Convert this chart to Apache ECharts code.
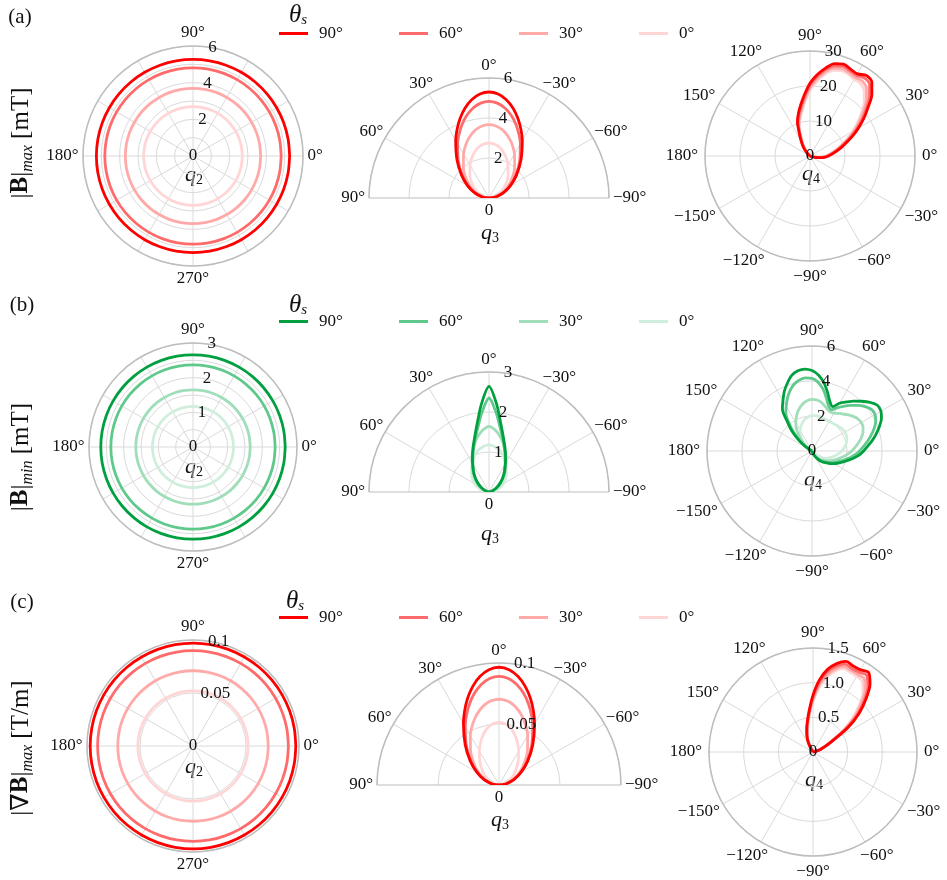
<!DOCTYPE html>
<html>
<head>
<meta charset="utf-8">
<script src="https://cdn.jsdelivr.net/npm/echarts@6/dist/echarts.min.js"></script>
<style>
  html, body { margin: 0; padding: 0; background: #fff; }
  #chart { width: 947px; height: 880px; }
</style>
</head>
<body>
<div id="chart"></div>
<script>
// Source polar angle θs of each curve (legend order, darkest first)
const thetaS = ['90°', '60°', '30°', '0°'];

// ---- q2 sweep: field magnitude does not depend on q2 (constant rings) ----
const q2Sweep = [0, 10, 20, 30, 40, 50, 60, 70, 80, 90, 100, 110, 120, 130, 140, 150, 160, 170, 180,
  190, 200, 210, 220, 230, 240, 250, 260, 270, 280, 290, 300, 310, 320, 330, 340, 350, 360];
const bmaxQ2 = [5.27, 4.81, 3.69, 2.69];     // |B|max [mT] for θs = 90, 60, 30, 0
const bminQ2 = [2.66, 2.37, 1.65, 1.17];     // |B|min [mT]
const gradQ2 = [0.097, 0.090, 0.071, 0.052]; // |∇B|max [T/m]

// ---- q3 sweep (half plane, -90° .. 90°) ----
const q3Sweep = [-90, -85, -80, -70, -60, -50, -40, -30, -25, -20, -15, -10, -5, 0, 5, 10, 15, 20, 25, 30, 40, 50, 60, 70, 80, 85, 90];
const bmaxQ3_90 = [0, 0.185, 0.372, 0.774, 1.24, 1.80, 2.49, 3.33, 3.78, 4.23, 4.65, 4.99, 5.22, 5.30, 5.22, 4.99, 4.65, 4.23, 3.78, 3.33, 2.49, 1.80, 1.24, 0.774, 0.372, 0.185, 0];
const bmaxQ3_60 = [0, 0.18, 0.365, 0.758, 1.206, 1.74, 2.384, 3.135, 3.534, 3.925, 4.282, 4.572, 4.763, 4.83, 4.763, 4.572, 4.282, 3.925, 3.534, 3.135, 2.384, 1.74, 1.206, 0.758, 0.365, 0.18, 0];
const bmaxQ3_30 = [0, 0.163, 0.325, 0.669, 1.052, 1.491, 1.994, 2.546, 2.825, 3.09, 3.324, 3.509, 3.628, 3.67, 3.628, 3.509, 3.324, 3.09, 2.825, 2.546, 1.994, 1.491, 1.052, 0.669, 0.325, 0.163, 0];
const bmaxQ3_0  = [0, 0.12, 0.241, 0.497, 0.783, 1.11, 1.487, 1.902, 2.112, 2.311, 2.488, 2.628, 2.719, 2.75, 2.719, 2.628, 2.488, 2.311, 2.112, 1.902, 1.487, 1.11, 0.783, 0.497, 0.241, 0.12, 0];

const bminQ3_90 = [0, 0.015, 0.03, 0.10, 0.22, 0.38, 0.58, 0.82, 0.98, 1.17, 1.40, 1.72, 2.20, 2.64, 2.20, 1.72, 1.40, 1.17, 0.98, 0.82, 0.58, 0.38, 0.22, 0.10, 0.03, 0.015, 0];
const bminQ3_60 = [0, 0.015, 0.03, 0.11, 0.23, 0.39, 0.58, 0.81, 0.96, 1.13, 1.35, 1.62, 2.00, 2.35, 2.00, 1.62, 1.35, 1.13, 0.96, 0.81, 0.58, 0.39, 0.23, 0.11, 0.03, 0.015, 0];
const bminQ3_30 = [0, 0.025, 0.05, 0.14, 0.27, 0.42, 0.62, 0.85, 1.00, 1.15, 1.31, 1.45, 1.57, 1.64, 1.57, 1.45, 1.31, 1.15, 1.00, 0.85, 0.62, 0.42, 0.27, 0.14, 0.05, 0.025, 0];
const bminQ3_0  = [0, 0.05, 0.12, 0.26, 0.42, 0.55, 0.68, 0.82, 0.91, 1.00, 1.07, 1.12, 1.16, 1.18, 1.16, 1.12, 1.07, 1.00, 0.91, 0.82, 0.68, 0.55, 0.42, 0.26, 0.12, 0.05, 0];

const gradQ3_90 = [0, 0.0031, 0.0063, 0.0130, 0.0210, 0.0308, 0.0431, 0.0583, 0.0668, 0.0754, 0.0835, 0.0903, 0.0949, 0.0965, 0.0949, 0.0903, 0.0835, 0.0754, 0.0668, 0.0583, 0.0431, 0.0308, 0.0210, 0.0130, 0.0063, 0.0031, 0];
const gradQ3_60 = [0, 0.0031, 0.0062, 0.0128, 0.0205, 0.0299, 0.0415, 0.0554, 0.0631, 0.0707, 0.0778, 0.0837, 0.0876, 0.0890, 0.0876, 0.0837, 0.0778, 0.0707, 0.0631, 0.0554, 0.0415, 0.0299, 0.0205, 0.0128, 0.0062, 0.0031, 0];
const gradQ3_30 = [0, 0.0029, 0.0057, 0.0118, 0.0186, 0.0267, 0.0362, 0.0470, 0.0526, 0.0580, 0.0629, 0.0669, 0.0694, 0.0703, 0.0694, 0.0669, 0.0629, 0.0580, 0.0526, 0.0470, 0.0362, 0.0267, 0.0186, 0.0118, 0.0057, 0.0029, 0];
const gradQ3_0  = [0, 0.0018, 0.0036, 0.0075, 0.0120, 0.0175, 0.0242, 0.0323, 0.0366, 0.0410, 0.0451, 0.0484, 0.0506, 0.0514, 0.0506, 0.0484, 0.0451, 0.0410, 0.0366, 0.0323, 0.0242, 0.0175, 0.0120, 0.0075, 0.0036, 0.0018, 0];

// ---- q4 sweeps (full plane, lobes only where the field is non-zero) ----
const bmaxQ4Sweep = [-25, -20, -15, -10, -5, 0, 5, 10, 15, 20, 25, 30, 35, 40, 45, 50, 55, 60, 65, 70,
  75, 80, 85, 90, 95, 100, 105, 110, 115, 120, 125, 130, 135, 140];
const bmaxQ4_90 = [0, 0.3, 1.4, 2.8, 4.2, 5.3, 6.3, 7.6, 9.2, 11.0, 13.4, 16.0, 18.8, 21.7, 25.0, 27.5, 28.1, 27.1, 27.4, 27.9, 27.3, 25.5, 23.3, 20.8, 17.7, 15.0, 12.7, 10.5, 7.3, 5.2, 3.6, 2.2, 1.0, 0];
const bmaxQ4_60 = [0, 0.3, 1.3, 2.6, 3.9, 5.0, 6.0, 7.3, 8.8, 10.6, 12.9, 15.4, 18.2, 21.0, 24.0, 26.5, 27.2, 26.6, 26.9, 27.3, 26.7, 25.0, 22.8, 20.2, 17.1, 14.4, 12.2, 10.0, 6.9, 4.8, 3.3, 2.0, 0.9, 0];
const bmaxQ4_30 = [0, 0.3, 1.2, 2.4, 3.7, 4.8, 5.8, 7.0, 8.4, 10.1, 12.3, 14.7, 17.3, 20.0, 22.8, 25.1, 26.1, 25.9, 26.3, 26.6, 26.0, 24.3, 22.0, 19.5, 16.4, 13.7, 11.5, 9.4, 6.5, 4.5, 3.0, 1.8, 0.8, 0];
const bmaxQ4_0  = [0, 0.3, 1.2, 2.3, 3.5, 4.6, 5.6, 6.7, 8.1, 9.7, 11.8, 14.1, 16.6, 19.2, 21.9, 24.1, 25.2, 25.3, 25.8, 26.0, 25.3, 23.6, 21.3, 18.8, 15.8, 13.1, 11.0, 8.9, 6.1, 4.2, 2.9, 1.7, 0.8, 0];

const bminQ4Sweep = [-75, -70, -65, -60, -55, -50, -45, -40, -35, -30, -25, -20, -15, -10, -5,
  0, 5, 10, 15, 20, 25, 30, 35, 40, 45, 50, 55, 60, 65, 70, 75, 80, 85, 90, 95, 100,
  105, 110, 115, 120, 125, 130, 135, 140, 145, 150, 155];
const bminQ4_90 = [0, 0.05, 0.2, 0.35, 0.55, 0.75, 0.9, 1.05, 1.25, 1.45, 1.65, 1.85, 2.1, 2.4, 2.7,
  2.95, 3.2, 3.5, 3.8, 4.1, 4.38, 4.55, 4.56, 4.33, 4.02, 3.72, 3.42, 3.15, 2.8, 3.0, 3.45, 3.95, 4.35, 4.6, 4.7, 4.65,
  4.47, 4.12, 3.75, 3.32, 2.95, 2.2, 1.65, 1.05, 0.55, 0.15, 0];
const bminQ4_60 = [0, 0.05, 0.18, 0.32, 0.5, 0.68, 0.83, 0.97, 1.15, 1.33, 1.52, 1.7, 1.93, 2.2, 2.47,
  2.72, 2.95, 3.22, 3.5, 3.78, 4.02, 4.16, 4.15, 3.95, 3.68, 3.4, 3.12, 2.85, 2.6, 2.75, 3.15, 3.6, 3.95, 4.15, 4.2, 4.12,
  3.95, 3.67, 3.32, 2.95, 2.6, 2.0, 1.45, 0.92, 0.45, 0.1, 0];
const bminQ4_30 = [0, 0.05, 0.15, 0.27, 0.42, 0.57, 0.7, 0.82, 0.97, 1.12, 1.28, 1.44, 1.62, 1.83, 2.05,
  2.27, 2.48, 2.7, 2.92, 3.1, 3.22, 3.25, 3.2, 3.08, 2.92, 2.76, 2.62, 2.5, 2.45, 2.55, 2.7, 2.85, 2.93, 2.95, 2.9, 2.78,
  2.6, 2.38, 2.12, 1.85, 1.55, 1.2, 0.85, 0.52, 0.25, 0.05, 0];
const bminQ4_0  = [0, 0.05, 0.12, 0.2, 0.3, 0.4, 0.5, 0.6, 0.72, 0.84, 0.97, 1.1, 1.25, 1.4, 1.55,
  1.7, 1.83, 1.95, 2.05, 2.12, 2.16, 2.17, 2.15, 2.1, 2.05, 2.0, 1.97, 1.95, 1.95, 1.97, 2.0, 2.02, 2.03, 2.02, 1.98, 1.9,
  1.8, 1.67, 1.52, 1.35, 1.15, 0.93, 0.7, 0.45, 0.22, 0.05, 0];

const gradQ4Sweep = [10, 15, 20, 25, 30, 35, 40, 45, 50, 55, 60, 65, 70, 75, 80, 85, 90, 95, 100, 105, 110, 115, 120, 125];
const gradQ4_90 = [0, 0.06, 0.12, 0.2, 0.33, 0.62, 0.87, 1.08, 1.28, 1.40, 1.37, 1.37, 1.39, 1.32, 1.21, 1.04, 0.82, 0.61, 0.46, 0.35, 0.26, 0.18, 0.08, 0];
const gradQ4_60 = [0, 0.05, 0.12, 0.2, 0.32, 0.58, 0.83, 1.04, 1.23, 1.35, 1.33, 1.33, 1.35, 1.28, 1.17, 1.0, 0.79, 0.59, 0.45, 0.34, 0.25, 0.17, 0.07, 0];
const gradQ4_30 = [0, 0.05, 0.11, 0.19, 0.3, 0.54, 0.78, 0.98, 1.17, 1.29, 1.29, 1.30, 1.31, 1.24, 1.12, 0.96, 0.76, 0.57, 0.43, 0.32, 0.24, 0.16, 0.07, 0];
const gradQ4_0  = [0, 0.05, 0.11, 0.18, 0.29, 0.5, 0.73, 0.93, 1.12, 1.24, 1.26, 1.27, 1.28, 1.2, 1.08, 0.92, 0.73, 0.55, 0.41, 0.31, 0.23, 0.15, 0.06, 0];

// ---- styling ----
const FONT = '"Liberation Serif", "DejaVu Serif", serif';
const INK = '#111111';
const GRID = '#dadada';
const SPINE = '#bdbdbd';
const REDS = ['#ff0000', '#ff6b6b', '#ffa9a9', '#ffd5d5'];
const GREENS = ['#00a040', '#5fc98c', '#a0ddb9', '#cfeedc'];
const LABEL_PUSH = 22;   // extra outward room that the per-label padding redistributes
const LABEL_H = 17;

const option = {
  animation: false,
  backgroundColor: '#ffffff',
  polar: [], angleAxis: [], radiusAxis: [], series: [], legend: [], graphic: []
};

function textWidth(s) {
  let w = 0;
  for (const ch of s) w += ch === '.' ? 4.3 : ch === '°' ? 6.8 : ch === '\u2212' ? 9.6 : 8.6;
  return w;
}
function signedDeg(v) {
  return (v < 0 ? '\u2212' : '') + Math.abs(v) + '°';
}
const valKey = v => 'v' + (v < 0 ? 'm' + (-v) : v);

// Angle-axis variants for the three sweep types; `screen` gives the on-screen direction of a value
const ANGLE = {
  q2: { min: 0, max: 360, startAngle: 0, screen: v => v, fmt: v => (v % 90 === 0 ? (v % 360) + '°' : '') },
  q3: { min: -90, max: 90, startAngle: 0, endAngle: 180, screen: v => v + 90, fmt: signedDeg },
  q4: { min: -180, max: 180, startAngle: 180, screen: v => v, fmt: v => (Math.abs(v) === 180 ? '180°' : signedDeg(v)) }
};

// The axis anchors each angle label by its nearest edge; padding moves every label so that its
// centre sits at rim + margin + half its own extent along the label direction.
function angleLabelRich(a, r, m0) {
  const d = LABEL_PUSH, h = LABEL_H, k = (r + m0) / r;
  const rich = {};
  for (let v = a.min; v <= a.max; v += 30) {
    const t = a.fmt(v);
    if (!t) continue;
    const th = a.screen(v) * Math.PI / 180;
    const ux = Math.cos(th), uy = -Math.sin(th);
    const w = textWidth(t);
    let pl = 0, pr = 0, pt = 0, pb = 0;
    if (Math.abs(ux) * k < 0.3) {
      const s = (d + w / 2) * ux;
      if (s > 0) pl = 2 * s; else pr = -2 * s;
    } else if (ux > 0) pl = d * ux - w / 2 * (1 - ux);
    else pr = -d * ux - w / 2 * (1 + ux);
    if (Math.abs(uy) * k < 0.3) {
      const s = (d + h / 2) * uy;
      if (s > 0) pt = 2 * s; else pb = -2 * s;
    } else if (uy > 0) pt = d * uy - h / 2 * (1 - uy);
    else pb = -d * uy - h / 2 * (1 + uy);
    rich[valKey(v)] = { padding: [Math.max(0, pt), Math.max(0, pr), Math.max(0, pb), Math.max(0, pl)] };
  }
  return rich;
}

function addPanel(p) {
  const base = option.polar.length;
  option.polar.push({ center: [p.cx, p.cy], radius: p.r });
  option.polar.push({ center: [p.cx, p.cy], radius: p.r });
  const a = ANGLE[p.kind];
  const m0 = p.margin - LABEL_PUSH;
  const spokes = p.kind === 'q3' ? [SPINE, GRID, GRID, GRID, GRID, GRID, SPINE] : GRID;
  const angleAxis = {
    polarIndex: base, type: 'value', min: a.min, max: a.max, interval: 30,
    startAngle: a.startAngle, clockwise: false,
    axisLine: { show: true, lineStyle: { color: SPINE, width: 1.5 } },
    axisTick: { show: false },
    splitLine: { show: true, lineStyle: { color: spokes, width: 1 } },
    axisLabel: {
      show: true, margin: m0,
      color: INK, fontFamily: FONT, fontSize: 17, rich: angleLabelRich(a, p.r, m0),
      formatter: v => { const t = a.fmt(v); return t ? '{' + valKey(v) + '|' + t + '}' : ''; }
    }
  };
  if (a.endAngle !== undefined) angleAxis.endAngle = a.endAngle;
  option.angleAxis.push(angleAxis);
  // second, invisible angle axis that sets the direction along which radial tick labels sit
  option.angleAxis.push({ polarIndex: base + 1, type: 'value', min: 0, max: 360, startAngle: p.labelAngle, clockwise: false, show: false });

  option.radiusAxis.push({
    polarIndex: base, type: 'value', min: 0, max: p.max, interval: p.ring,
    axisLine: { show: false }, axisTick: { show: false }, axisLabel: { show: false },
    splitLine: { show: true, lineStyle: { color: GRID, width: 1 } }
  });

  const fmt = p.tickFmt || (v => String(v));
  const rich = { zb: { padding: [26, 0, 0, 0] } };
  for (let k = 1; k * p.tick <= p.max + 1e-9; k++) {
    const t = fmt(+(k * p.tick).toFixed(6));
    rich['k' + t.replace('.', 'd')] = { padding: [0, 0, 0, textWidth(t)] };
  }
  option.radiusAxis.push({
    polarIndex: base + 1, type: 'value', min: 0, max: p.max, interval: p.tick, z: 6,
    axisLine: { show: false }, axisTick: { show: false }, splitLine: { show: false },
    axisLabel: {
      show: true, margin: 0, align: 'center', verticalAlign: 'middle',
      color: INK, fontFamily: FONT, fontSize: 17, rich,
      formatter: v => {
        if (v === 0) return p.zeroBelow ? '{zb|0}' : '0';
        const t = fmt(v);
        return '{k' + t.replace('.', 'd') + '|' + t + '}';
      }
    }
  });

  // draw the palest curve first so the θs = 90° curve ends up on top
  for (let i = p.curves.length - 1; i >= 0; i--) {
    const c = p.curves[i];
    option.series.push({
      type: 'line', coordinateSystem: 'polar', polarIndex: base,
      name: p.row + thetaS[i],
      data: p.sweep.map((ang, j) => [c[j], ang]),
      symbol: 'none', showSymbol: false, smooth: 0.3, z: 3,
      lineStyle: { color: p.colors[i], width: 2.8 },
      itemStyle: { color: p.colors[i] }
    });
  }

  // sweep-variable label under each panel
  option.graphic.push({
    type: 'text', x: p.cx + 1, y: p.cy + p.qDy,
    style: {
      text: '{q|q}{s|' + p.q + '}', align: 'center', verticalAlign: 'middle',
      rich: {
        q: { fontFamily: FONT, fontStyle: 'italic', fontSize: 22, lineHeight: 24, fill: INK },
        s: { fontFamily: FONT, fontSize: 14, lineHeight: 14, verticalAlign: 'bottom', fill: INK }
      }
    }
  });
}

const ringCurves = vals => vals.map(v => q2Sweep.map(() => v));

// ---------- row (a): |B|max ----------
addPanel({ row: 'a', kind: 'q2', cx: 193, cy: 156, r: 110, max: 6, ring: 1, tick: 2, margin: 4.5, labelAngle: 82,
  sweep: q2Sweep, curves: ringCurves(bmaxQ2), colors: REDS, q: 2, qDy: 19 });
addPanel({ row: 'a', kind: 'q3', cx: 489, cy: 198, r: 120, max: 6, ring: 2, tick: 2, margin: 4, labelAngle: 83, zeroBelow: true,
  sweep: q3Sweep, curves: [bmaxQ3_90, bmaxQ3_60, bmaxQ3_30, bmaxQ3_0], colors: REDS, q: 3, qDy: 35 });
addPanel({ row: 'a', kind: 'q4', cx: 810, cy: 156, r: 105, max: 30, ring: 10, tick: 10, margin: 7, labelAngle: 82,
  sweep: bmaxQ4Sweep, curves: [bmaxQ4_90, bmaxQ4_60, bmaxQ4_30, bmaxQ4_0], colors: REDS, q: 4, qDy: 18 });

// ---------- row (b): |B|min ----------
addPanel({ row: 'b', kind: 'q2', cx: 193, cy: 447, r: 104, max: 3, ring: 0.5, tick: 1, margin: 4.5, labelAngle: 82,
  sweep: q2Sweep, curves: ringCurves(bminQ2), colors: GREENS, q: 2, qDy: 20 });
addPanel({ row: 'b', kind: 'q3', cx: 489, cy: 492, r: 120, max: 3, ring: 1, tick: 1, margin: 4, labelAngle: 83, zeroBelow: true,
  sweep: q3Sweep, curves: [bminQ3_90, bminQ3_60, bminQ3_30, bminQ3_0], colors: GREENS, q: 3, qDy: 42 });
addPanel({ row: 'b', kind: 'q4', cx: 812, cy: 451, r: 105, max: 6, ring: 2, tick: 2, margin: 7, labelAngle: 82,
  sweep: bminQ4Sweep, curves: [bminQ4_90, bminQ4_60, bminQ4_30, bminQ4_0], colors: GREENS, q: 4, qDy: 29 });

// ---------- row (c): |∇B|max ----------
addPanel({ row: 'c', kind: 'q2', cx: 193, cy: 746, r: 106, max: 0.1, ring: 0.05, tick: 0.05, margin: 4.5, labelAngle: 82,
  sweep: q2Sweep, curves: ringCurves(gradQ2), colors: REDS, q: 2, qDy: 21 });
addPanel({ row: 'c', kind: 'q3', cx: 499, cy: 785, r: 122, max: 0.1, ring: 0.05, tick: 0.05, margin: 4, labelAngle: 83, zeroBelow: true,
  sweep: q3Sweep, curves: [gradQ3_90, gradQ3_60, gradQ3_30, gradQ3_0], colors: REDS, q: 3, qDy: 35 });
addPanel({ row: 'c', kind: 'q4', cx: 813, cy: 752, r: 104, max: 1.5, ring: 0.5, tick: 0.5, margin: 7, labelAngle: 82,
  tickFmt: v => v.toFixed(1),
  sweep: gradQ4Sweep, curves: [gradQ4_90, gradQ4_60, gradQ4_30, gradQ4_0], colors: REDS, q: 4, qDy: 28 });

// ---------- legends: one evenly spaced entry per θs ----------
function addLegend(row, top) {
  thetaS.forEach((t, i) => {
    option.legend.push({
      data: [row + t], left: 274 + 120 * i, top,
      icon: 'rect', itemWidth: 29, itemHeight: 3, selectedMode: false,
      formatter: n => '{w|' + n.slice(1) + '}',
      textStyle: {
        color: INK, fontFamily: FONT, fontSize: 17,
        rich: { w: { padding: [0, 0, 0, 6], color: INK, fontFamily: FONT, fontSize: 17 } }
      }
    });
  });
}
addLegend('a', 20);
addLegend('b', 308);
addLegend('c', 604);

// ---------- panel letters, θs headers, quantity titles ----------
const plain = { fontFamily: FONT, fontSize: 21, fill: INK };
[['(a)', 20, 17], ['(b)', 22, 305], ['(c)', 22, 602]].forEach(([t, x, y]) => {
  option.graphic.push({ type: 'text', x, y, style: Object.assign({ text: t, align: 'center', verticalAlign: 'middle' }, plain) });
});
[[298, 15], [298, 305], [295, 601]].forEach(([x, y]) => {
  option.graphic.push({
    type: 'text', x, y,
    style: {
      text: '{t|θ}{s|s}', align: 'center', verticalAlign: 'middle',
      rich: {
        t: { fontFamily: FONT, fontStyle: 'italic', fontSize: 25, lineHeight: 26, fill: INK },
        s: { fontFamily: FONT, fontStyle: 'italic', fontSize: 15, lineHeight: 15, verticalAlign: 'bottom', fill: INK }
      }
    }
  });
});
const titleRich = {
  t: { fontFamily: FONT, fontSize: 25, lineHeight: 30, fill: INK },
  b: { fontFamily: FONT, fontSize: 25, fontWeight: 'bold', lineHeight: 30, fill: INK },
  s: { fontFamily: FONT, fontStyle: 'italic', fontSize: 16, lineHeight: 16, verticalAlign: 'bottom', fill: INK }
};
[
  ['{t||}{b|B}{t||}{s|max}{t| [mT]}', 21, 143],
  ['{t||}{b|B}{t||}{s|min}{t| [mT]}', 21, 457],
  ['{t||∇}{b|B}{t||}{s|max}{t| [T/m]}', 21, 748]
].forEach(([t, x, y]) => {
  option.graphic.push({
    type: 'text', x, y, rotation: Math.PI / 2,
    style: { text: t, align: 'center', verticalAlign: 'middle', rich: titleRich }
  });
});

const chart = echarts.init(document.getElementById('chart'), null, { renderer: 'canvas' });
chart.setOption(option);
</script>
</body>
</html>
